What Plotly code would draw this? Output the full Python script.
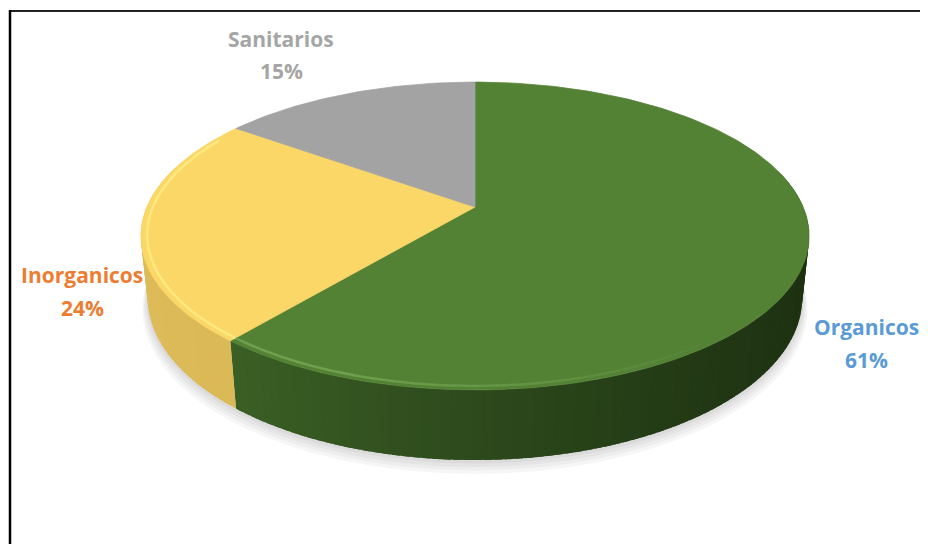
import math
import plotly.graph_objects as go

# ---- data ----
categories = ["Organicos", "Inorganicos", "Sanitarios"]
values = [61, 24, 15]
label_text = ["61%", "24%", "15%"]

# ---- styling ----
top_colors = ["#548235", "#FAD766", "#A3A3A3"]
side_left = ["#416A29", "#DDBB58", "#8C8C8C"]
side_right = ["#1E3212", "#D2AF4E", "#6E6E6E"]
rim_colors = ["#74A652", "#FFEC84", "#BDBDBD"]
label_colors = ["#5B9BD5", "#ED7D31", "#A5A5A5"]

W, H = 928, 544
OFF = 8  # page body margin
CX, CY = 475.0, 207.0
ALPHA = math.radians(26.9)
DIST = 4.73
FOC = 1552.0
THICK = 0.212


def proj(X, Y, Z):
    c, s = math.cos(ALPHA), math.sin(ALPHA)
    d = Z * c - Y * s
    u = Y * c + Z * s
    w = DIST + d
    return CX + FOC * X / w, CY - FOC * u / w


def arc_pt(theta_deg, Y=0.0, r=1.0):
    t = math.radians(theta_deg)
    return proj(r * math.sin(t), Y, r * math.cos(t))


def hex2rgb(h):
    h = h.lstrip("#")
    return tuple(int(h[i:i + 2], 16) for i in (0, 2, 4))


def mix(a, b, t):
    ra, rb = hex2rgb(a), hex2rgb(b)
    return "rgb(%d,%d,%d)" % tuple(round(ra[i] + (rb[i] - ra[i]) * t) for i in range(3))


total = float(sum(values))
bounds = [0.0]
for v in values:
    bounds.append(bounds[-1] + 360.0 * v / total)

fig = go.Figure()

# soft shadow below the disc
for k in range(4, 0, -1):
    xs, ys = [], []
    for i in range(0, 361, 3):
        x, y = arc_pt(i, Y=-THICK, r=1.0 + 0.004 * k)
        xs.append(x)
        ys.append(y + 2.5 * k)
    fig.add_trace(go.Scatter(x=xs, y=ys, fill="toself", mode="none",
                             fillcolor="rgba(0,0,0,0.035)", hoverinfo="skip",
                             showlegend=False))

# sides (gradient from left to right)
xl, _ = arc_pt(270)
xr, _ = arc_pt(90)
for si in range(len(values)):
    a0, a1 = bounds[si], bounds[si + 1]
    n = max(2, int((a1 - a0) / 1.5))
    step = (a1 - a0) / n
    for j in range(n):
        t0 = a0 + step * j
        t1 = min(a1, t0 + step * 1.8)
        tm = t0 + 0.5 * step
        if math.cos(math.radians(tm)) > 0.25:
            continue
        p0 = arc_pt(t0)
        p1 = arc_pt(t1)
        q1 = arc_pt(t1, Y=-THICK)
        q0 = arc_pt(t0, Y=-THICK)
        xm = arc_pt(tm)[0]
        tt = min(1, max(0, (xm - xl) / (xr - xl)))
        col = mix(side_left[si], side_right[si], tt ** 0.8)
        fig.add_trace(go.Scatter(x=[p0[0], p1[0], q1[0], q0[0], p0[0]],
                                 y=[p0[1], p1[1], q1[1], q0[1], p0[1]],
                                 fill="toself", mode="none",
                                 fillcolor=col, hoverinfo="skip",
                                 showlegend=False))

# top faces
for si in range(len(values)):
    a0, a1 = bounds[si], bounds[si + 1]
    n = max(4, int((a1 - a0)))
    xs, ys = [CX], [CY]
    for j in range(n + 1):
        x, y = arc_pt(a0 + (a1 - a0) * j / n)
        xs.append(x)
        ys.append(y)
    xs.append(CX)
    ys.append(CY)
    fig.add_trace(go.Scatter(x=xs, y=ys, fill="toself", mode="lines",
                             line=dict(color=top_colors[si], width=0.8),
                             fillcolor=top_colors[si], hoverinfo="skip",
                             showlegend=False))

# bevel rim highlight on the front-left edge, fading to the right
for si in range(len(values)):
    a0, a1 = bounds[si], bounds[si + 1]
    lo, hi = max(a0, 140), min(a1, 300)
    if hi <= lo:
        continue
    n = max(2, int((hi - lo) / 3))
    st = (hi - lo) / n
    for j in range(n):
        t0 = lo + st * j
        t1 = t0 + st * 1.05
        tm = t0 + st / 2
        op = 0.85 if tm >= 200 else max(0.0, 0.85 * (tm - 140) / 60)
        if op <= 0.02:
            continue
        pa = arc_pt(t0, r=0.982)
        pb = arc_pt(min(t1, hi), r=0.982)
        fig.add_trace(go.Scatter(x=[pa[0], pb[0]], y=[pa[1], pb[1]], mode="lines",
                                 line=dict(color=rim_colors[si], width=2.5),
                                 opacity=op, hoverinfo="skip", showlegend=False))

# labels (two lines each)
label_x = [866, 82, 281]
label_y1 = [327, 275, 39]
label_y2 = [360, 308, 71]
for si in range(len(values)):
    fig.add_annotation(x=label_x[si], y=label_y1[si], xref="x", yref="y",
                       text="<b>%s</b>" % categories[si], showarrow=False,
                       font=dict(family="Open Sans", size=21, color=label_colors[si]))
    fig.add_annotation(x=label_x[si], y=label_y2[si], xref="x", yref="y",
                       text="<b>%s</b>" % label_text[si], showarrow=False,
                       font=dict(family="Open Sans", size=21, color=label_colors[si]))

# chart border (top and left edges visible)
fig.add_shape(type="line", x0=9, x1=W + 5, y0=11, y1=11, xref="x", yref="y",
              line=dict(color="#222222", width=2))
fig.add_shape(type="line", x0=10, x1=10, y0=10, y1=H + 5, xref="x", yref="y",
              line=dict(color="#000000", width=2.5))

fig.update_layout(
    width=W - OFF, height=H - OFF,
    margin=dict(l=0, r=0, t=0, b=0),
    paper_bgcolor="white", plot_bgcolor="white",
    xaxis=dict(range=[OFF, W], visible=False, fixedrange=True),
    yaxis=dict(range=[H, OFF], visible=False, fixedrange=True),
    showlegend=False,
)

fig.write_html("out.html")
